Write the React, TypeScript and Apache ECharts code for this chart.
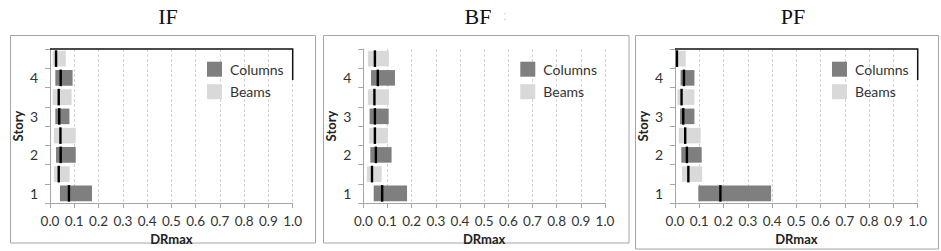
import React, { useEffect, useRef } from "react";
import * as echarts from "echarts";

const stories = ["1", "1.5", "2", "2.5", "3", "3.5", "4", "4.5"];
const columnStoryIdx = [0, 2, 4, 6];
const beamStoryIdx = [1, 3, 5, 7];
const xTicks = [0, 0.1, 0.2, 0.3, 0.4, 0.5, 0.6, 0.7, 0.8, 0.9, 1.0];

const panelTitles = ["IF", "BF", "PF"];

// IF
const ifColLow = [0.041, 0.025, 0.022, 0.022];
const ifColHigh = [0.173, 0.106, 0.08, 0.093];
const ifColMean = [0.078, 0.044, 0.038, 0.044];
const ifBeamLow = [0.016, 0.016, 0.011, 0.011];
const ifBeamHigh = [0.081, 0.106, 0.089, 0.065];
const ifBeamMean = [0.036, 0.043, 0.036, 0.025];
// BF
const bfColLow = [0.043, 0.029, 0.026, 0.032];
const bfColHigh = [0.181, 0.117, 0.105, 0.131];
const bfColMean = [0.078, 0.052, 0.048, 0.06];
const bfBeamLow = [0.015, 0.024, 0.019, 0.019];
const bfBeamHigh = [0.076, 0.101, 0.106, 0.106];
const bfBeamMean = [0.036, 0.048, 0.046, 0.048];
// PF
const pfColLow = [0.096, 0.026, 0.021, 0.023];
const pfColHigh = [0.396, 0.11, 0.08, 0.08];
const pfColMean = [0.187, 0.049, 0.034, 0.037];
const pfBeamLow = [0.029, 0.016, 0.01, 0.003];
const pfBeamHigh = [0.112, 0.106, 0.08, 0.044];
const pfBeamMean = [0.055, 0.042, 0.027, 0.008];

const COL_COLOR = "#7f7f7f";
const BEAM_COLOR = "#d9d9d9";
const FONT = "Lato";

const panels = [
  { col: [ifColLow, ifColHigh, ifColMean], beam: [ifBeamLow, ifBeamHigh, ifBeamMean] },
  { col: [bfColLow, bfColHigh, bfColMean], beam: [bfBeamLow, bfBeamHigh, bfBeamMean] },
  { col: [pfColLow, pfColHigh, pfColMean], beam: [pfBeamLow, pfBeamHigh, pfBeamMean] },
];

const gridLefts = [50, 363.3, 675];
const gridWidths = [242.7, 241.7, 242.7];
const GRID_TOP = 49;
const GRID_H = 154;

function makeRows(idx: number[], arrs: number[][]) {
  return idx.map((c, i) => [c, arrs[0][i], arrs[1][i], arrs[2][i]]);
}

const renderItem = (params: any, api: any) => {
  const cat = api.value(0);
  const lo = api.coord([api.value(1), cat]);
  const hi = api.coord([api.value(2), cat]);
  const mid = api.coord([api.value(3), cat]);
  const h = api.size([0, 1])[1] * 0.81;
  const color = api.visual("color");
  return {
    type: "group",
    children: [
      {
        type: "rect",
        shape: { x: lo[0], y: lo[1] - h / 2, width: hi[0] - lo[0], height: h },
        style: { fill: color },
      },
      {
        type: "rect",
        shape: { x: mid[0] - 1.2, y: lo[1] - h / 2 - 0.5, width: 2.4, height: h + 1 },
        style: { fill: "#000" },
      },
    ],
  };
};

export default function App() {
  const ref = useRef<HTMLDivElement>(null);
  useEffect(() => {
    document.body.style.margin = "0";
    const chart = echarts.init(ref.current!, null, { renderer: "svg" });

    const grid = gridLefts.map((l, i) => ({
      left: l,
      top: GRID_TOP,
      width: gridWidths[i],
      height: GRID_H,
      containLabel: false,
    }));

    const xAxis = gridLefts.map((_, i) => ({
      type: "value",
      gridIndex: i,
      min: xTicks[0],
      max: xTicks[xTicks.length - 1],
      interval: 0.1,
      name: "DRmax",
      nameLocation: "middle",
      nameGap: 18,
      nameTextStyle: { fontFamily: FONT, fontWeight: "bold", fontSize: 13, color: "#222" },
      axisLine: { show: true, lineStyle: { color: "#a6a6a6", width: 1 } },
      axisTick: { show: true, length: 5, lineStyle: { color: "#a6a6a6" } },
      axisLabel: {
        fontFamily: FONT,
        fontSize: 13.5,
        color: "#333",
        margin: 11,
        formatter: (v: number) => v.toFixed(1),
      },
      splitLine: { show: true, lineStyle: { color: "#d4d4d4", type: [3, 2], width: 1 } },
    }));

    const yAxis = gridLefts.map((_, i) => ({
      type: "category",
      gridIndex: i,
      data: stories,
      boundaryGap: true,
      name: "Story",
      nameLocation: "middle",
      nameGap: 26,
      nameRotate: 90,
      nameTextStyle: { fontFamily: FONT, fontWeight: "bold", fontSize: 13, color: "#222" },
      axisLine: { show: true, lineStyle: { color: "#a6a6a6", width: 1 } },
      axisTick: { show: true, length: 5, interval: 0, lineStyle: { color: "#a6a6a6" } },
      axisLabel: {
        interval: 0,
        fontFamily: FONT,
        fontSize: 14,
        color: "#333",
        margin: 12,
        formatter: (v: string) => (Number.isInteger(Number(v)) ? v : ""),
      },
      splitLine: { show: false },
    }));

    const series: any[] = [];
    panels.forEach((p, i) => {
      series.push({
        type: "custom",
        name: "Columns",
        xAxisIndex: i,
        yAxisIndex: i,
        itemStyle: { color: COL_COLOR },
        encode: { x: [1, 2, 3], y: 0 },
        renderItem,
        data: makeRows(columnStoryIdx, p.col),
      });
      series.push({
        type: "custom",
        name: "Beams",
        xAxisIndex: i,
        yAxisIndex: i,
        itemStyle: { color: BEAM_COLOR },
        encode: { x: [1, 2, 3], y: 0 },
        renderItem,
        data: makeRows(beamStoryIdx, p.beam),
      });
    });

    const legend = gridLefts.map((l) => ({
      orient: "vertical",
      left: l + 157,
      top: 61.7,
      padding: 0,
      itemWidth: 15,
      itemHeight: 15,
      itemGap: 7.5,
      icon: "rect",
      selectedMode: false,
      data: ["Columns", "Beams"],
      textStyle: { fontFamily: FONT, fontSize: 14, color: "#333", padding: [0, 0, 0, 3] },
    }));

    const boxes = [
      { x: 10.5, y: 35.5, w: 305, h: 207.5 },
      { x: 323.5, y: 35.5, w: 305.5, h: 207.5 },
      { x: 635.5, y: 35.5, w: 303, h: 213.5 },
    ];
    const titleCenters = [168, 478, 793];

    const graphic: any[] = [];
    boxes.forEach((b) => {
      graphic.push({
        type: "rect",
        z: -1,
        shape: { x: b.x, y: b.y, width: b.w, height: b.h },
        style: { fill: "none", stroke: "#a6a6a6", lineWidth: 1 },
      });
    });
    panelTitles.forEach((t, i) => {
      graphic.push({
        type: "text",
        x: titleCenters[i],
        y: 16,
        style: {
          text: t,
          fontFamily: "Liberation Serif",
          fontSize: 22,
          fill: "#111",
          textAlign: "center",
          textVerticalAlign: "middle",
        },
      });
    });
    graphic.push({
      type: "text",
      x: 505,
      y: 16,
      style: {
        text: ":",
        fontFamily: "Liberation Sans",
        fontSize: 12,
        fill: "#c8c8c8",
        textAlign: "center",
        textVerticalAlign: "middle",
      },
    });
    // dark plot-area border fragments (IF, PF)
    [0, 2].forEach((i) => {
      const l = gridLefts[i];
      const r = l + gridWidths[i];
      graphic.push({
        type: "polyline",
        z: 10,
        shape: { points: [[l, GRID_TOP], [r, GRID_TOP], [r, 80]] },
        style: { fill: "none", stroke: "#111", lineWidth: 1.5 },
      });
    });

    chart.setOption({
      animation: false,
      backgroundColor: "#fff",
      grid,
      xAxis,
      yAxis,
      legend,
      series,
      graphic,
    });
    return () => chart.dispose();
  }, []);
  return <div ref={ref} style={{ width: 941, height: 251 }} />;
}
